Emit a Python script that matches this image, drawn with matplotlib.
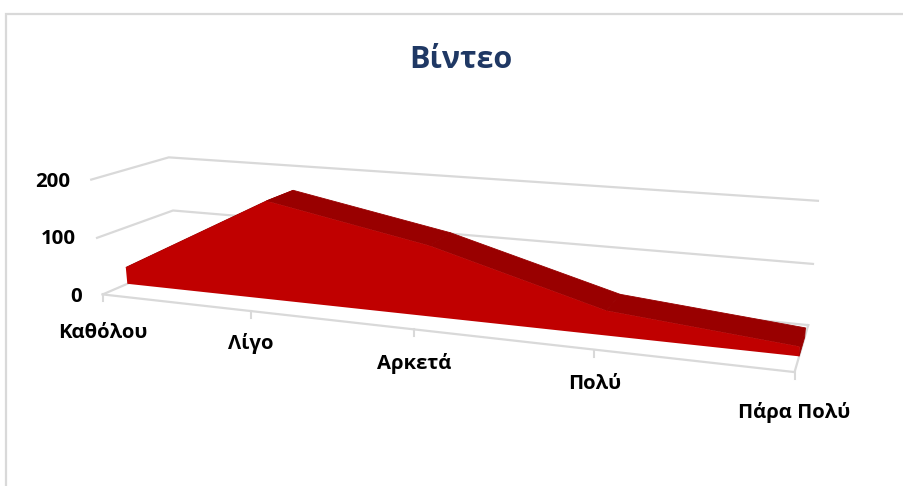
import numpy as np
import matplotlib
matplotlib.use("Agg")
import matplotlib.pyplot as plt

# ---- data ----
categories = ["Καθόλου", "Λίγο", "Αρκετά", "Πολύ", "Πάρα Πολύ"]
values = [30, 170, 118, 40, 15]
value_ticks = [0, 100, 200]
title = "Βίντεο"

FONT = ["Open Sans", "DejaVu Sans"]
plt.rcParams["font.family"] = FONT
GRID = "#D9D9D9"
FRONT = "#C00000"
TOP = "#990000"

# ---- perspective of the 3-D frame: (category, depth, value) -> figure pixels ----
frame = [
    ((0, 0, 0), (102, 293)), ((1, 0, 0), (251, 312)), ((2, 0, 0), (414, 330)),
    ((3, 0, 0), (594, 350)), ((4, 0, 0), (795, 371)),
    ((0, 1, 0), (178, 263)), ((4, 1, 0), (808, 325)),
    ((0, 1, 100), (173, 210)), ((4, 1, 100), (813, 264)),
    ((0, 1, 200), (168, 157)), ((4, 1, 200), (818, 201)),
    ((0, 0, 100), (97, 238)), ((0, 0, 200), (92, 180)),
]
rows = []
for (c, d, v), (px, py) in frame:
    P = [c, d, v / 100, 1]
    rows.append(P + [0, 0, 0, 0] + [-px * k for k in P])
    rows.append([0, 0, 0, 0] + P + [-py * k for k in P])
H = np.linalg.svd(np.array(rows, float))[2][-1].reshape(3, 4)


def project(c, d, v):
    c, d, v = np.broadcast_arrays(np.asarray(c, float), np.asarray(d, float), np.asarray(v, float))
    w = H @ np.vstack([c.ravel(), d.ravel(), v.ravel() / 100, np.ones(c.size)])
    return w[0] / w[2], w[1] / w[2]


fig = plt.figure(figsize=(9.04, 4.86), dpi=100)
ax = fig.add_axes([0, 0, 1, 1])
ax.set_xlim(0, 904)
ax.set_ylim(486, 0)
ax.axis("off")

# chart border (runs off the right and bottom of the picture)
ax.plot([6, 6, 904], [486, 14, 14], color=GRID, lw=1.6, solid_joinstyle="miter")

cats = np.arange(len(categories))
last = cats[-1]

# gridlines on the walls
for v in value_ticks[1:]:
    x, y = project([0, 0, last], [0, 1, 1], v)
    ax.plot(x, y, color=GRID, lw=1.6, zorder=1)
# floor outline
for c_seg, d_seg in [([0, 0], [0, 1]), ([last, last], [0, 1]), ([0, last], [0, 0]), ([0, last], [1, 1])]:
    x, y = project(c_seg, d_seg, 0)
    ax.plot(x, y, color=GRID, lw=1.6, zorder=1)
# ticks
tx, ty = project(cats, 0, 0)
for a, b in zip(tx, ty):
    ax.plot([a, a], [b, b + 7], color=GRID, lw=1.5, zorder=1)

# area ribbon
D1, D2 = 0.31, 0.72
vals = np.array(values, float)
for i in cats[:-1]:
    idx = [i, i + 1]
    xa, ya = project(idx, D1, vals[idx])
    xb, yb = project(idx, D2, vals[idx])
    ax.fill(np.r_[xa, xb[::-1]], np.r_[ya, yb[::-1]], facecolor=TOP, edgecolor=TOP, lw=0.6, zorder=3)
# right-hand end
xa, ya = project(last, D1, [0, vals[-1]])
xb, yb = project(last, D2, [vals[-1], 0])
ax.fill(np.r_[xa, xb], np.r_[ya, yb], facecolor=TOP, edgecolor=TOP, lw=0.6, zorder=3)
# front face
xt, yt = project(cats, D1, vals)
xf, yf = project(cats[::-1], D1, 0)
ax.fill(np.r_[xt, xf], np.r_[yt, yf], color=FRONT, lw=0, zorder=4)

# labels
ax.text(461, 59.5, title, color="#1F3864", fontsize=22, fontweight="bold", ha="center", va="center")
for v in value_ticks:
    px, py = project(0, 0, v)
    ax.text(px[0] - 21, py[0] + {0: 3, 100: 1, 200: 2}[v], str(v), fontsize=14.7, fontweight="bold",
            ha="right", va="center", color="black")
label_drop = [39, 32, 34, 34, 40]
for lab, a, b, dy in zip(categories, tx, ty, label_drop):
    ax.text(a, b + dy, lab, fontsize=14.6, fontweight="bold", ha="center", va="center", color="black")

fig.savefig("out.png", dpi=100, facecolor="white")
